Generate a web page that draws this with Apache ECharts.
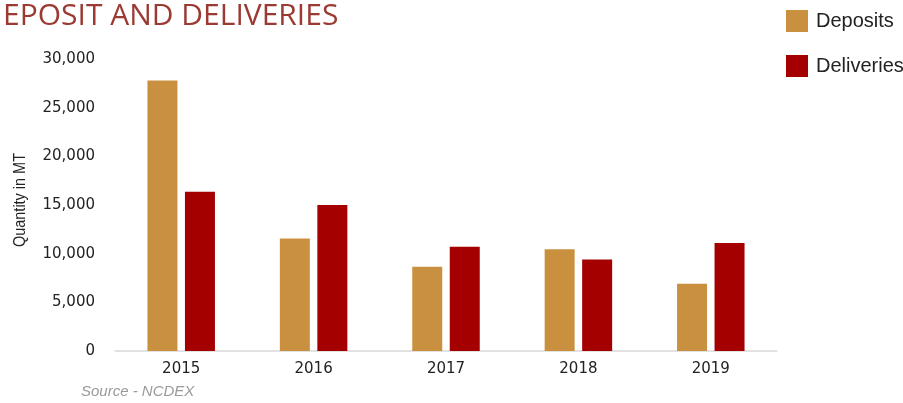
<!DOCTYPE html>
<html><head><meta charset="utf-8">
<script src="https://cdn.jsdelivr.net/npm/echarts@6/dist/echarts.min.js"></script>
<style>html,body{margin:0;padding:0;background:#fff}#c{width:903px;height:403px}</style>
</head><body><div id="c"></div>
<script>
const categories = ['2015', '2016', '2017', '2018', '2019'];
const deposits = [27800, 11550, 8650, 10450, 6900];
const deliveries = [16350, 15000, 10700, 9400, 11100];
const yTicks = { min: 0, max: 30000, interval: 5000 };

const chart = echarts.init(document.getElementById('c'), null, { renderer: 'canvas' });
chart.setOption({
  animation: false,
  backgroundColor: '#fff',
  title: {
    text: 'EPOSIT AND DELIVERIES',
    left: -2, top: -4,
    textStyle: { color: '#9B3A32', fontFamily: 'Open Sans', fontWeight: 'normal', fontSize: 30 }
  },
  legend: {
    orient: 'vertical', left: 786, top: 10, padding: 0,
    itemWidth: 22, itemHeight: 22, itemGap: 23,
    icon: 'rect',
    textStyle: { color: '#222', fontFamily: 'Liberation Sans', fontSize: 20, padding: [0, 0, 0, 3] },
    data: ['Deposits', 'Deliveries']
  },
  grid: { left: 115, right: 126, top: 59, bottom: 52, containLabel: false },
  xAxis: {
    type: 'category', data: categories,
    axisLine: { lineStyle: { color: '#d9d9d9', width: 1.5 } },
    axisTick: { show: false },
    axisLabel: { color: '#222', fontFamily: 'DejaVu Sans', fontSize: 15, margin: 11 }
  },
  yAxis: {
    type: 'value', min: yTicks.min, max: yTicks.max, interval: yTicks.interval,
    splitLine: { show: false },
    axisLine: { show: false }, axisTick: { show: false },
    axisLabel: {
      color: '#222', fontFamily: 'DejaVu Sans', fontSize: 15, margin: 20, padding: [4, 0, 0, 0],
      formatter: v => v.toLocaleString('en-US')
    }
  },
  series: [
    { name: 'Deposits', type: 'bar', data: deposits, barWidth: 30, barGap: '25%',
      itemStyle: { color: '#C9913F' } },
    { name: 'Deliveries', type: 'bar', data: deliveries, barWidth: 30,
      itemStyle: { color: '#A40000' } }
  ],
  graphic: [
    { type: 'text', x: 20, y: 200, rotation: Math.PI / 2, scaleX: 0.85,
      style: { text: 'Quantity in MT', fill: '#222', font: '17px "Liberation Sans"',
               textAlign: 'center', textVerticalAlign: 'middle' } },
    { type: 'text', left: 81, top: 384,
      style: { text: 'Source - NCDEX', fill: '#9a9a9a', font: 'italic 15px "Liberation Sans"' } }
  ]
});
</script></body></html>
